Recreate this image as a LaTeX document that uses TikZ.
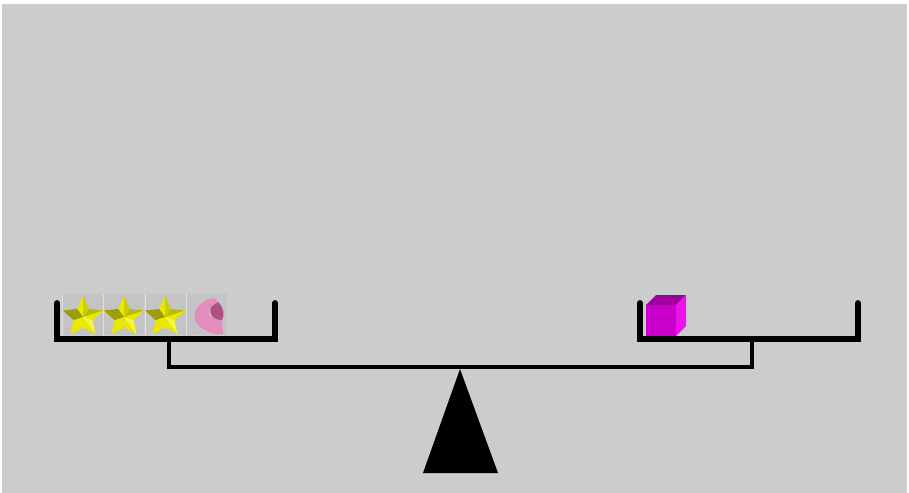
\documentclass[tikz,border=0pt]{standalone}
\usetikzlibrary{positioning}

\definecolor{backgray}{HTML}{CCCCCC}
\definecolor{tilegray}{HTML}{C4C4C4}
\definecolor{starface}{HTML}{E8E800}
\definecolor{starshade}{HTML}{9C9C10}
\definecolor{starlight}{HTML}{F6F640}
\definecolor{pinkface}{HTML}{E48CBE}
\definecolor{pinkshade}{HTML}{B0507E}
\definecolor{cubefront}{HTML}{CC00CC}
\definecolor{cubetop}{HTML}{A000A0}
\definecolor{cuberight}{HTML}{EE10EE}

\tikzset{
    panline/.style={line width=3.3pt, line cap=round, line join=miter},
    beamline/.style={line width=2.7pt},
}

% one yellow star with a bit of shading, centred at (#1,#2)
\newcommand{\goldstar}[2]{
    \begin{scope}[shift={(#1,#2)}]
        \fill[starface] (-90:21) -- (-54:10) -- (-18:21) -- (18:10) -- (54:21)
            -- (90:10) -- (126:21) -- (162:10) -- (198:21) -- (234:10) -- cycle;
        \fill[starshade] (198:21) -- (234:10) -- (0,0) -- (162:10) -- cycle;
        \fill[starshade!60!starface] (-18:21) -- (-54:10) -- (0,0) -- cycle;
        \fill[starlight] (54:21) -- (18:10) -- (0,0) -- cycle;
        \fill[starshade!35!starface] (-90:21) -- (-54:10) -- (0,0) -- cycle;
    \end{scope}
}

\begin{document}
\begin{tikzpicture}[x=0.02cm, y=-0.02cm]
    \useasboundingbox (0,0) rectangle (909,493);
    \fill[white] (0,0) rectangle (909,493);
    \fill[backgray] (2,4) rectangle (907,493);

    % tiles holding the loads
    \foreach \x in {62,103,145,186} {
        \fill[tilegray] (\x,294) rectangle ++(41,41);
        \draw[backgray!60!white, line width=0.3pt] (\x,294) -- ++(0,41);
    }
    \goldstar{83}{317}
    \goldstar{124}{317}
    \goldstar{165}{317}

    % pink curl
    \fill[pinkface] (214,298) .. controls (198,300) and (189,315) .. (198,325)
        .. controls (205,332) and (215,335) .. (223,334) -- (222,320)
        .. controls (212,320) and (205,314) .. (211,307) -- (218,302) -- cycle;
    \fill[pinkshade] (218,302) .. controls (224,308) and (225,315) .. (222,320)
        .. controls (214,320) and (208,315) .. (211,307) -- cycle;

    % magenta cube
    \fill[cubetop] (646,305) -- (656,295) -- (686,295) -- (676,305) -- cycle;
    \fill[cubefront] (646,305) rectangle (676,336);
    \fill[cuberight] (676,305) -- (686,295) -- (686,326) -- (676,336) -- cycle;

    % pans
    \coordinate (lefthook) at (169,339);
    \coordinate (righthook) at (752,339);
    \coordinate (leftend) at (169,367);
    \coordinate (rightend) at (752,367);
    \draw[panline] (57,303) -- (57,339) -- (275,339) -- (275,303);
    \draw[panline] (640,303) -- (640,339) -- (858,339) -- (858,303);

    % beam and hangers
    \draw[beamline] (lefthook) -- (leftend) -- (rightend) -- (righthook);

    % pivot
    \fill[black] (460,369) -- (498,473) -- (423,473) -- cycle;
\end{tikzpicture}
\end{document}
